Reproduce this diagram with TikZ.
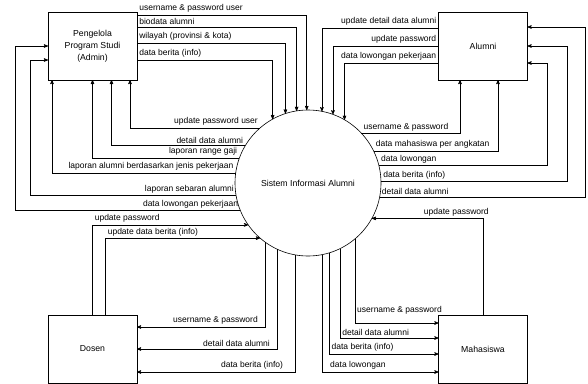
\documentclass[tikz,border=0pt]{standalone}
\usepackage{fontspec}
\setmainfont{Liberation Sans}
\usetikzlibrary{arrows}
\tikzset{
  entity/.style = {rectangle, draw=black, minimum width=89pt, minimum height=68pt,
    inner sep=0pt, outer sep=0pt, align=center, font=\fontsize{8.7}{12}\selectfont},% external entity
  proc/.style = {circle, draw=black, minimum size=146pt, inner sep=0pt, outer sep=0pt,
    font=\fontsize{8.7}{12}\selectfont},% the process
  lbl/.style = {font=\fontsize{8.5}{10}\selectfont, inner sep=2pt}% flow label
}

\begin{document}
\begin{tikzpicture}[x=1pt,y=-1pt,->,>=stealth',line width=0.6pt]
\useasboundingbox (0,0) rectangle (588,383);
\node [proc] (sia) at (308,183) {Sistem Informasi Alumni};
\node [entity] (adm) at (92.5,46) {Pengelola\\Program Studi\\(Admin)};
\node [entity] (alm) at (483,46) {Alumni};
\node [entity] (dsn) at (92.5,349) {Dosen};
\node [entity] (mhs) at (483,349) {Mahasiswa};

% admin -> sistem
\draw ([yshift=-3pt]adm.north east) node[lbl, above right] {username \& password user} -| (sia.91);
\draw ([yshift=-15pt]adm.north east) node[lbl, above right] {biodata alumni} -| (sia.99);
\draw ([yshift=-31pt]adm.north east) node[lbl, above right] {wilayah (provinsi \& kota)} -| (sia.108);
\draw ([yshift=-48pt]adm.north east) node[lbl, above right] {data berita (info)} -| (sia.119);
% sistem -> admin
\draw (sia.131) node[lbl, above left] {update password user} -| ([xshift=-7pt]adm.south east);
\draw (sia.149) node[lbl, above left] {detail data alumni} -| ([xshift=19pt]adm.south);
\draw (sia.160) node[lbl, above left] {laporan range gaji} -| (adm.south);
\draw (sia.172) node[lbl, above left] {laporan alumni berdasarkan jenis pekerjaan} -| ([xshift=4pt]adm.south west);
\draw (sia.190) node[lbl, above left] {laporan sebaran alumni} -| ([xshift=-18pt,yshift=-14pt]adm.west) -- ([yshift=-14pt]adm.west);
\draw (sia.202) node[lbl, above left] {data lowongan pekerjaan} -| ([xshift=-33pt]adm.west) -- (adm.west);

% alumni -> sistem
\draw ([yshift=-16pt]alm.north west) node[lbl, above left] {update detail data alumni} -| (sia.79);
\draw (alm.west) node[lbl, above left] {update password} -| (sia.70);
\draw ([yshift=-17pt]alm.west) node[lbl, above left] {data lowongan pekerjaan} -| (sia.60);
% sistem -> alumni
\draw (sia.43) node[lbl, above right] {username \& password} -| ([xshift=-23pt]alm.south);
\draw (sia.26) node[lbl, above right] {data mahasiswa per angkatan} -| ([xshift=15pt]alm.south);
\draw (sia.14) node[lbl, above right] {data lowongan} -| ([xshift=20pt,yshift=-17pt]alm.east) -- ([yshift=-17pt]alm.east);
\draw (sia.1) node[lbl, above right] {data berita (info)} -| ([xshift=40pt]alm.east) -- (alm.east);
\draw (sia.349) node[lbl, above right] {detail data alumni} -| ([xshift=58pt,yshift=-15pt]alm.north east) -- ([yshift=-15pt]alm.north east);

% dosen -> sistem
\draw (dsn.north) |- node[lbl, pos=0.5, above right] {update password} (sia.215);
\draw ([xshift=13pt]dsn.north) |- node[lbl, pos=0.5, above right] {update data berita (info)} (sia.229);
% sistem -> dosen
\draw (sia.234) |- node[lbl, pos=0.5, above left, xshift=-5pt] {username \& password} ([yshift=22pt]dsn.east);
\draw (sia.245) |- node[lbl, pos=0.5, above left, xshift=-5pt] {detail data alumni} (dsn.east);
\draw (sia.260) |- node[lbl, pos=0.5, above left, xshift=-10pt] {data berita (info)} ([yshift=-23pt]dsn.east);

% mahasiswa -> sistem
\draw (mhs.north) |- node[lbl, pos=0.62, above] {update password} (sia.331);
% sistem -> mahasiswa
\draw (sia.310) |- node[lbl, pos=0.5, above right, yshift=6pt] {username \& password} ([yshift=26pt]mhs.west);
\draw (sia.296) |- node[lbl, pos=0.5, above right] {detail data alumni} ([yshift=11pt]mhs.west);
\draw (sia.287) |- node[lbl, pos=0.5, above right] {data berita (info)} ([yshift=-5pt]mhs.west);
\draw (sia.281) |- node[lbl, pos=0.5, above right, xshift=6pt] {data lowongan} ([yshift=-23pt]mhs.west);
\end{tikzpicture}
\end{document}
